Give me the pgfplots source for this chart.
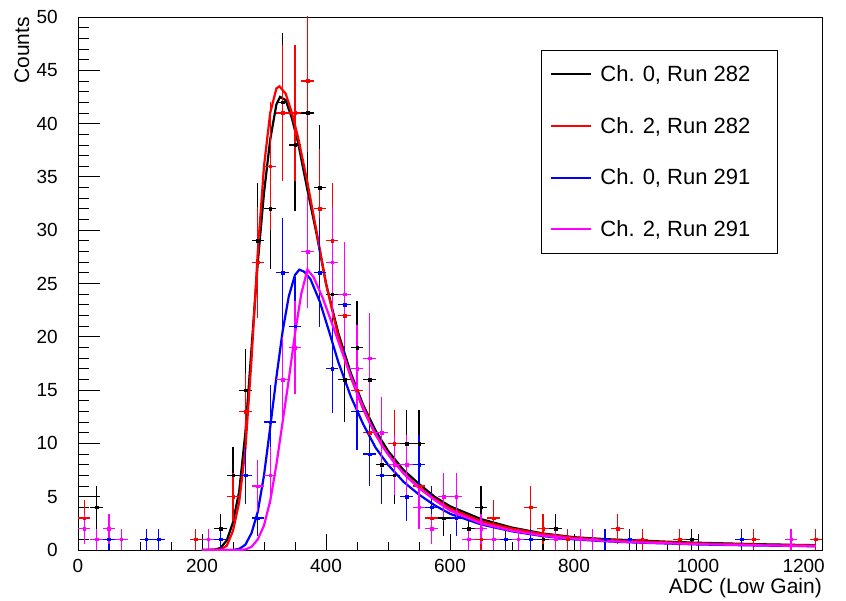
\documentclass[border=0pt]{standalone}
\usepackage{pgfplots}
\usepackage{pgfplotstable}
\pgfplotsset{compat=1.18}
\usepackage{fontspec}
\setmainfont{Liberation Sans}
\definecolor{rred}{RGB}{255,0,0}
\definecolor{rblue}{RGB}{0,0,255}
\definecolor{rmag}{RGB}{255,0,255}

\pgfplotstableread{
x y ey
30 4 2
230 2 1.414
250 7 2.646
270 15 3.873
290 29 5.385
310 32 5.657
330 42 6.481
350 38 6.164
370 41 6.403
390 34 5.831
410 24 4.899
430 16 4
450 19 4.359
470 16 4
490 8 2.828
510 7 2.646
530 10 3.162
550 10 3.162
590 3 1.732
630 2 1.414
650 4 2
750 1 1
770 2 1.414
990 1 1
}\blackdata

\pgfplotstableread{
x y ey
10 3 1.732
190 1 1
250 5 2.236
270 13 3.606
290 27 5.196
310 36 6
330 41 6.403
350 41 6.403
370 44 6.633
390 32 5.657
410 29 5.385
430 22 4.690
450 15 3.873
470 11 3.317
510 10 3.162
550 6 2.449
570 3 1.732
650 1 1
670 3 1.732
730 4 2
750 2 1.414
790 1 1
870 2 1.414
910 1 1
970 1 1
1090 1 1
1190 1 1
}\reddata

\pgfplotstableread{
x y ey
50 1 1
110 1 1
130 1 1
230 1 1
270 7 2.646
290 3 1.732
310 12 3.464
330 26 5.099
350 21 4.583
390 26 5.099
410 17 4.123
430 23 4.796
450 13 3.606
470 9 3
490 7 2.646
530 5 2.236
550 8 2.828
570 4 2
610 3 1.732
690 1 1
730 1 1
850 1 1
890 1 1
1070 1 1
}\bluedata

\pgfplotstableread{
x y ey
10 2 1.414
30 1 1
50 2 1.414
70 1 1
210 1 1
290 6 2.449
310 7 2.646
330 16 4
350 19 4.359
370 28 5.292
410 27 5.196
430 24 4.899
450 17 4.123
470 18 4.243
490 11 3.317
510 8 2.828
530 8 2.828
550 4 2
570 2 1.414
590 5 2.236
610 5 2.236
630 1 1
650 2 1.414
670 1 1
710 1 1
770 1 1
810 1 1
830 1 1
1150 1 1
}\magdata

\pgfplotstableread{
x y
200 0
220 0.02
230 0.2
240 0.9
250 2.6
260 5.5
270 11
280 19
290 27
300 33.5
310 38.5
320 41.8
326 42.5
335 42.2
345 40.5
355 38.2
370 33.8
385 29.6
400 25
420 20.3
440 16.6
460 13.6
480 11.2
500 9.3
525 7.5
550 6.2
575 5.0
600 4.1
650 2.9
700 2.1
750 1.55
800 1.2
850 1.02
900 0.9
950 0.78
1000 0.68
1100 0.54
1190 0.45
}\blackfit

\pgfplotstableread{
x y
200 0
230 0.05
240 0.4
250 1.8
260 4.5
270 9.5
280 18
290 28
300 36
310 41
320 43.3
325 43.5
335 42.8
345 41
355 38.7
370 34.5
385 29.8
400 25
420 20
440 16.2
460 13.2
480 10.8
500 9.0
525 7.2
550 5.9
575 4.8
600 3.9
650 2.7
700 2.0
750 1.5
800 1.15
850 0.95
900 0.82
1000 0.62
1100 0.5
1190 0.42
}\redfit

\pgfplotstableread{
x y
200 0
250 0
260 0.1
270 0.5
280 1.6
290 3.6
300 7
310 11.5
320 16.2
330 20.5
340 23.8
350 25.8
357 26.3
365 26.1
375 25.4
390 23.3
405 20.5
420 17.6
440 14.4
460 11.8
480 9.6
500 8.0
525 6.4
550 5.2
575 4.2
600 3.4
650 2.4
700 1.75
750 1.3
800 1.0
850 0.82
900 0.7
1000 0.52
1100 0.42
1190 0.35
}\bluefit

\pgfplotstableread{
x y
200 0
260 0
270 0.05
280 0.3
290 1.0
300 2.3
310 4.6
320 8.0
330 12.0
340 16.0
350 20.3
360 24.0
370 26.3
380 25.6
395 23.6
410 21.2
430 17.9
450 14.8
470 12.0
490 9.8
510 8.2
530 6.9
550 5.8
575 4.7
600 3.7
650 2.5
700 1.8
750 1.35
800 1.05
850 0.85
900 0.72
1000 0.55
1100 0.44
1190 0.36
}\magfit

\begin{document}
\begin{tikzpicture}
\path[use as bounding box] (-78pt,-50pt) rectangle (768pt,550pt);
\begin{axis}[
  at={(0,0)}, anchor=south west,
  scale only axis, width=744pt, height=533pt,
  xmin=0, xmax=1200, ymin=0, ymax=50,
  xtick={0,200,...,1000}, minor x tick num=3,
  extra x ticks={1200},
  extra x tick style={xticklabel style={anchor=north east, xshift=3pt}},
  ytick={0,5,...,50}, minor y tick num=4,
  tick align=inside, xtick pos=bottom, ytick pos=left,
  x tick style={/pgfplots/major tick length=16pt,/pgfplots/minor tick length=8pt},
  y tick style={/pgfplots/major tick length=22pt,/pgfplots/minor tick length=11pt},
  tick style={black, line width=0.8pt},
  axis line style={black, line width=0.8pt},
  /pgf/number format/assume math mode=true,
  /pgf/number format/1000 sep={},
  ticklabel style={font=\fontsize{19}{19}\selectfont},
  xticklabel style={inner sep=0pt, anchor=north, yshift=-9pt},
  yticklabel style={inner sep=0pt, anchor=east, xshift=-20pt},
  xlabel={ADC (Low Gain)},
  ylabel={Counts},
  every axis x label/.style={at={(axis description cs:1,0)}, anchor=north east,
     inner sep=0pt, yshift=-28pt, font=\fontsize{21}{21}\selectfont},
  every axis y label/.style={at={(axis description cs:-0.0753,1)}, anchor=east,
     rotate=90, inner sep=0pt, font=\fontsize{21}{21}\selectfont},
  legend style={at={(axis description cs:0.6223,0.938)}, anchor=north west,
     draw=black, line width=0.8pt, fill=white,
     font=\fontsize{22}{22}\selectfont,
     inner xsep=9pt, inner ysep=13pt, row sep=30.3pt,
     nodes={inner sep=2pt}},
  legend cell align=left,
  legend image code/.code={\draw[#1, line width=2pt] (0pt,0pt) -- (40pt,0pt);},
  clip=true,
]
\pgfplotsset{hist/.style={only marks, mark=square*, mark size=1.3pt, forget plot,
   /pgfplots/error bars/x dir=both, /pgfplots/error bars/x fixed=10,
   /pgfplots/error bars/y dir=both, /pgfplots/error bars/y explicit,
   /pgfplots/error bars/error mark=none,
   /pgfplots/error bars/error bar style={line width=1.2pt}}}

\addplot[hist, black, mark options={fill=black}] table[x=x, y=y, y error=ey] {\blackdata};
\addplot[black, line width=2.2pt, no marks] table[x=x, y=y] {\blackfit};
\addlegendentry{\makebox[172pt][l]{\hspace{6pt}Ch. 0, Run 282}}

\addplot[hist, rred, mark options={fill=rred}] table[x=x, y=y, y error=ey] {\reddata};
\addplot[rred, line width=2.2pt, no marks] table[x=x, y=y] {\redfit};
\addlegendentry{\makebox[172pt][l]{\hspace{6pt}Ch. 2, Run 282}}

\addplot[hist, rblue, mark options={fill=rblue}] table[x=x, y=y, y error=ey] {\bluedata};
\addplot[rblue, line width=2.2pt, no marks] table[x=x, y=y] {\bluefit};
\addlegendentry{\makebox[172pt][l]{\hspace{6pt}Ch. 0, Run 291}}

\addplot[hist, rmag, mark options={fill=rmag}] table[x=x, y=y, y error=ey] {\magdata};
\addplot[rmag, line width=2.2pt, no marks] table[x=x, y=y] {\magfit};
\addlegendentry{\makebox[172pt][l]{\hspace{6pt}Ch. 2, Run 291}}
\end{axis}
\end{tikzpicture}
\end{document}
